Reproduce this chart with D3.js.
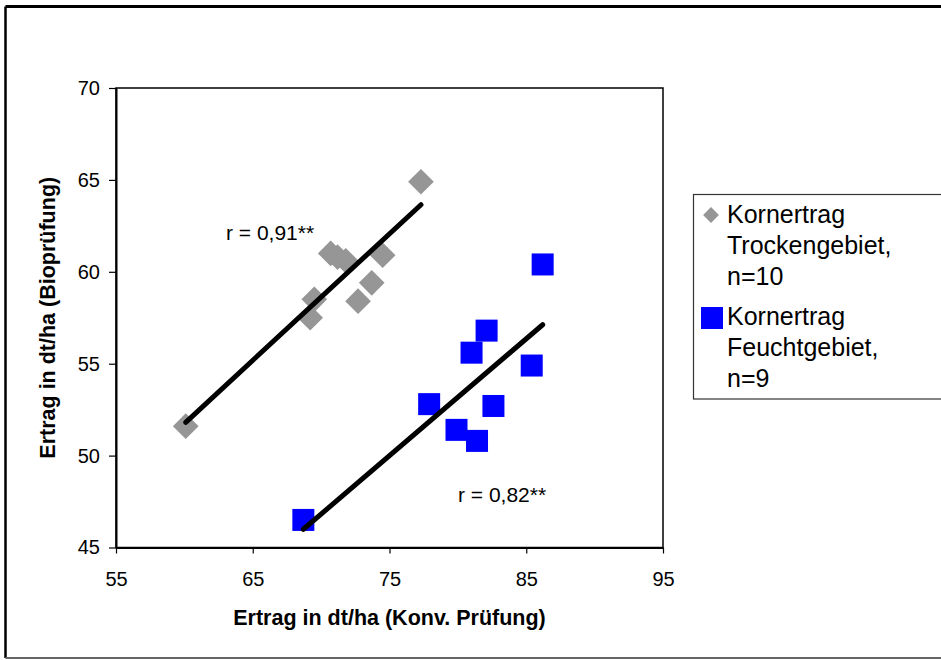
<!DOCTYPE html>
<html>
<head>
<meta charset="utf-8">
<script src="https://cdn.jsdelivr.net/npm/d3@7"></script>
<style>
  body { margin: 0; background: #fff; }
  text { font-family: "Liberation Sans", Arial, sans-serif; }
</style>
</head>
<body>
<svg width="941" height="660"></svg>
<script>
// Kornertrag Trockengebiet (grey diamonds)
const dryX = [60.1, 69.2, 69.5, 70.7, 71.2, 71.8, 72.7, 73.7, 74.5, 77.3];
const dryY = [51.6, 57.5, 58.5, 61.0, 60.8, 60.6, 58.4, 59.4, 60.9, 64.9];
// Kornertrag Feuchtgebiet (blue squares)
const wetX = [68.7, 77.9, 79.9, 81.0, 81.4, 82.1, 82.6, 85.4, 86.2];
const wetY = [46.5, 52.8, 51.4, 55.6, 50.8, 56.8, 52.7, 54.9, 60.4];

const xTicks = [55, 65, 75, 85, 95];
const yTicks = [45, 50, 55, 60, 65, 70];
const legendLabels = [
  ["Kornertrag", "Trockengebiet,", "n=10"],
  ["Kornertrag", "Feuchtgebiet,", "n=9"]
];
const rLabels = ["r = 0,91**", "r = 0,82**"];

let svg = d3.select("svg");

// chart area frame
svg.append("line").attr("x1", 5.5).attr("y1", 6.5).attr("x2", 941).attr("y2", 6.5)
  .attr("stroke", "#000").attr("stroke-width", 3);
svg.append("line").attr("x1", 5.5).attr("y1", 6.5).attr("x2", 5.5).attr("y2", 658)
  .attr("stroke", "#000").attr("stroke-width", 2.5);
svg.append("line").attr("x1", 5.5).attr("y1", 658).attr("x2", 941).attr("y2", 658)
  .attr("stroke", "#666").attr("stroke-width", 2);

let x = d3.scaleLinear().domain([55, 95]).range([116, 663]);
let y = d3.scaleLinear().domain([45, 70]).range([547.5, 88]);

// plot border
svg.append("rect")
  .attr("x", x(55)).attr("y", y(70))
  .attr("width", x(95) - x(55)).attr("height", y(45) - y(70))
  .attr("fill", "none").attr("stroke", "#000").attr("stroke-width", 1.5);

let xAxis = svg.append("g")
  .attr("transform", `translate(0,${y(45)})`)
  .call(d3.axisBottom(x).tickValues(xTicks).tickSize(6).tickSizeOuter(0).tickPadding(18));
let yAxis = svg.append("g")
  .attr("transform", `translate(${x(55)},0)`)
  .call(d3.axisLeft(y).tickValues(yTicks).tickSize(7).tickSizeOuter(0).tickPadding(9));

[xAxis, yAxis].forEach((g) => {
  g.select(".domain").attr("stroke", "#000").attr("stroke-width", 2);
  g.selectAll(".tick line").attr("stroke", "#000").attr("stroke-width", 1.2);
  g.selectAll(".tick text")
    .attr("fill", "#000")
    .style("font-family", "'Liberation Sans', Arial, sans-serif")
    .style("font-size", "20px");
});

// axis titles
svg.append("text")
  .attr("x", (x(55) + x(95)) / 2).attr("y", 625)
  .attr("text-anchor", "middle")
  .style("font-size", "21.5px").style("font-weight", "bold")
  .text("Ertrag in dt/ha (Konv. Prüfung)");
svg.append("text")
  .attr("transform", `translate(55,${(y(45) + y(70)) / 2}) rotate(-90)`)
  .attr("text-anchor", "middle")
  .style("font-size", "21.5px").style("font-weight", "bold")
  .text("Ertrag in dt/ha (Bioprüfung)");

// least squares fit
function fit(xs, ys) {
  const mx = d3.mean(xs), my = d3.mean(ys);
  const sxy = d3.sum(xs, (v, i) => (v - mx) * (ys[i] - my));
  const sxx = d3.sum(xs, (v) => (v - mx) * (v - mx));
  const b = sxy / sxx;
  const [x0, x1] = d3.extent(xs);
  return [[x0, my + b * (x0 - mx)], [x1, my + b * (x1 - mx)]];
}

let line = d3.line().x((d) => x(d[0])).y((d) => y(d[1]));

// grey diamonds
let diamond = d3.symbol().type(d3.symbolSquare).size(330);
svg.append("g").selectAll("path")
  .data(dryX.map((v, i) => [v, dryY[i]]))
  .enter().append("path")
  .attr("d", diamond)
  .attr("transform", (d) => `translate(${x(d[0])},${y(d[1])}) rotate(45)`)
  .attr("fill", "#969696");

// blue squares
let sq = 22;
svg.append("g").selectAll("rect")
  .data(wetX.map((v, i) => [v, wetY[i]]))
  .enter().append("rect")
  .attr("x", (d) => x(d[0]) - sq / 2)
  .attr("y", (d) => y(d[1]) - sq / 2)
  .attr("width", sq).attr("height", sq)
  .attr("fill", "#0000FF");

// trend lines
[fit(dryX, dryY), fit(wetX, wetY)].forEach((pts) => {
  svg.append("path")
    .attr("d", line(pts))
    .attr("fill", "none").attr("stroke", "#000")
    .attr("stroke-width", 5).attr("stroke-linecap", "round");
});

// r labels
svg.append("text").attr("x", 226).attr("y", 240)
  .style("font-size", "21px").text(rLabels[0]);
svg.append("text").attr("x", 458).attr("y", 502)
  .style("font-size", "21px").text(rLabels[1]);

// legend
svg.append("rect")
  .attr("x", 693.5).attr("y", 194.5).attr("width", 300).attr("height", 204.5)
  .attr("fill", "#fff").attr("stroke", "#333").attr("stroke-width", 1.2);

let legendY = [223, 325];
legendLabels.forEach((lines, k) => {
  lines.forEach((t, j) => {
    svg.append("text")
      .attr("x", 727).attr("y", legendY[k] + j * 31)
      .style("font-size", "25px").text(t);
  });
});
svg.append("path")
  .attr("d", d3.symbol().type(d3.symbolSquare).size(125))
  .attr("transform", "translate(711,215) rotate(45)")
  .attr("fill", "#969696");
svg.append("rect")
  .attr("x", 701).attr("y", 307).attr("width", 22).attr("height", 22)
  .attr("fill", "#0000FF");
</script>
</body>
</html>
